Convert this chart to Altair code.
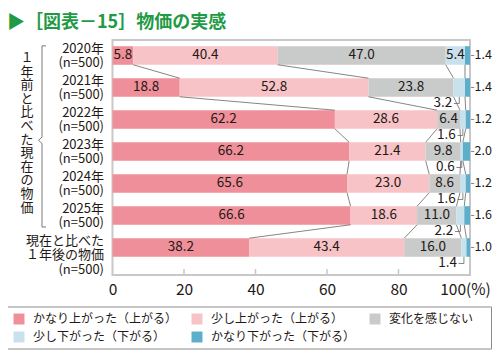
import altair as alt
import pandas as pd

# ---------------- data ----------------
row_labels = [
    "2020年\n(n=500)",
    "2021年\n(n=500)",
    "2022年\n(n=500)",
    "2023年\n(n=500)",
    "2024年\n(n=500)",
    "2025年\n(n=500)",
    "現在と比べた\n１年後の物価\n(n=500)",
]
series_names = [
    "かなり上がった（上がる）",
    "少し上がった（上がる）",
    "変化を感じない",
    "少し下がった（下がる）",
    "かなり下がった（下がる）",
]
s1 = [5.8, 18.8, 62.2, 66.2, 65.6, 66.6, 38.2]
s2 = [40.4, 52.8, 28.6, 21.4, 23.0, 18.6, 43.4]
s3 = [47.0, 23.8, 6.4, 9.8, 8.6, 11.0, 16.0]
s4 = [5.4, 3.2, 1.6, 0.6, 1.6, 2.2, 1.4]
s5 = [1.4, 1.4, 1.2, 2.0, 1.2, 1.6, 1.0]
x_ticks = [0, 20, 40, 60, 80, 100]
group_label = "１年前と比べた現在の物価"
title_text = "▶［図表－15］物価の実感"

colors = ["#ef8f99", "#f7c3c7", "#c9caca", "#c8e1ec", "#5caecb"]
FONT = "Noto Sans CJK JP"
TXT = "#231815"
HALF = 0.29

# ---------------- tables ----------------
series_vals = [s1, s2, s3, s4, s5]
recs = []
cums = []
for i in range(len(row_labels)):
    c = 0.0
    cum_row = []
    for k, name in enumerate(series_names):
        v = series_vals[k][i]
        if k <= 2 or (k == 3 and v >= 5):
            place = "in"
        elif k == 3:
            place = "below"
        else:
            place = "right"
        recs.append(dict(row=i, series=name, value=v, start=c, end=c + v,
                         mid=c + v / 2, label=f"{v:.1f}", place=place,
                         y0=i - HALF, y1=i + HALF, ylab=i + 0.5,
                         lead0=c + v / 2 - 1.5))
        c += v
        cum_row.append(c)
    cums.append(cum_row)
df = pd.DataFrame(recs)

conn = []
for i in range(len(row_labels) - 1):
    for k in range(4):
        conn.append(dict(x=cums[i][k], x2=cums[i + 1][k], y=i + HALF, y2=i + 1 - HALF))
conn_df = pd.DataFrame(conn)

rows_df = pd.DataFrame({"row": list(range(len(row_labels))), "ylabel": row_labels})
ticks_df = pd.DataFrame({"t": x_ticks[1:-1]})

xscale = alt.Scale(domain=[0, 100], nice=False, zero=False)
yscale = alt.Scale(domain=[-0.484, 6.86], reverse=True, nice=False, zero=False)
xaxis = alt.Axis(values=x_ticks, ticks=False, domain=False, grid=False,
                 labelFontSize=15.5, labelFont=FONT, labelColor=TXT,
                 labelPadding=7, title=None, labelFlush=False,
                 labelOffset={"condition": {"test": "datum.value == 100", "value": -5}, "value": 0},
                 labelExpr="datum.value == 100 ? '100(%)' : datum.label")


def X(f):
    return alt.X(f, scale=xscale, axis=xaxis, title=None)


def Y(f):
    return alt.Y(f, scale=yscale, axis=None, title=None)


base = alt.Chart(df)

bars = base.mark_bar().encode(
    x=X("start:Q"), x2="end:Q",
    y=Y("y0:Q"), y2="y1:Q",
    color=alt.Color("series:N",
                    scale=alt.Scale(domain=series_names, range=colors),
                    legend=alt.Legend(orient="none", legendX=-99.5, legendY=273,
                                      direction="horizontal", columns=3, title=None,
                                      symbolType="square", symbolSize=120,
                                      symbolStrokeWidth=0, labelFontSize=12,
                                      labelFont=FONT, labelColor=TXT, labelLimit=0,
                                      columnPadding=13, rowPadding=6, labelOffset=8)),
)

inside = base.transform_filter("datum.place == 'in'").mark_text(
    font=FONT, fontSize=13.5, color=TXT
).encode(x=X("mid:Q"), y=Y("row:Q"), text="label:N")

connectors = alt.Chart(conn_df).mark_rule(color="#666666", strokeWidth=0.8).encode(
    x=X("x:Q"), x2="x2:Q", y=Y("y:Q"), y2="y2:Q",
)

below = base.transform_filter("datum.place == 'below'")
below_text = below.mark_text(font=FONT, fontSize=13.5, color=TXT, align="right", dx=-7).encode(
    x=X("mid:Q"), y=Y("ylab:Q"), text="label:N",
)
below_h = below.mark_rule(color="#666666", strokeWidth=0.8).encode(
    x=X("lead0:Q"), x2="mid:Q", y=Y("ylab:Q"),
)
below_v = below.mark_rule(color="#666666", strokeWidth=0.8).encode(
    x=X("mid:Q"), y=Y("y1:Q"), y2="ylab:Q",
)

right = base.transform_filter("datum.place == 'right'")
right_text = right.mark_text(font=FONT, fontSize=12.5, color=TXT, align="left", dx=4.5).encode(
    x=X("end:Q"), y=Y("row:Q"), text="label:N",
)
right_lead = right.transform_calculate(a="datum.end + 0.3", b="datum.end + 1.2").mark_rule(
    color="#666666", strokeWidth=0.8
).encode(x=X("a:Q"), x2="b:Q", y=Y("row:Q"))

tick_marks = alt.Chart(ticks_df).mark_rule(color="#c8c8c8", strokeWidth=1.5).encode(
    x=X("t:Q"), y=alt.value(229), y2=alt.value(235),
)

ylabels = alt.Chart(rows_df).mark_text(
    font=FONT, fontSize=13, color=TXT, align="right", baseline="top",
    lineBreak="\n", lineHeight=14.5, dy=-12.5,
).encode(x=alt.value(-8.5), y=Y("row:Q"), text="ylabel:N")

one = pd.DataFrame({"g": [group_label]})
vlabel = alt.Chart(one).transform_calculate(
    t="join(split(datum.g, ''), '\\n')"
).mark_text(
    font=FONT, fontSize=13, color=TXT, align="center", baseline="middle",
    lineBreak="\n", lineHeight=13.6,
).encode(x=alt.value(-85.5), y=alt.value(18), text="t:N")

br_df = pd.DataFrame({"a": [-0.3], "b": [2.55], "m": [2.65], "c": [2.75], "d": [5.36]})
brc = dict(color="#555555", strokeWidth=0.8)
br = alt.Chart(br_df)
br1 = br.mark_rule(**brc).encode(x=alt.value(-70.5), y=Y("a:Q"), y2="b:Q")
br2 = br.mark_rule(**brc).encode(x=alt.value(-70.5), y=Y("c:Q"), y2="d:Q")
br3 = br.mark_rule(**brc).encode(x=alt.value(-70.5), x2=alt.value(-74), y=Y("b:Q"), y2="m:Q")
br4 = br.mark_rule(**brc).encode(x=alt.value(-74), x2=alt.value(-70.5), y=Y("m:Q"), y2="c:Q")
br5 = br.mark_rule(**brc).encode(x=alt.value(-70.5), x2=alt.value(-66.5), y=Y("a:Q"))
br6 = br.mark_rule(**brc).encode(x=alt.value(-70.5), x2=alt.value(-66.5), y=Y("d:Q"))

legend_box = alt.Chart(pd.DataFrame({"z": [0]})).mark_rect(
    fill="transparent", stroke="#8c8c8c", strokeWidth=1
).encode(x=alt.value(-105.5), x2=alt.value(379), y=alt.value(267), y2=alt.value(309))

chart = alt.layer(
    bars, connectors, inside, below_h, below_v, below_text, right_lead, right_text,
    tick_marks, ylabels, vlabel, br1, br2, br3, br4, br5, br6, legend_box,
).properties(
    width=357.5, height=235,
    autosize=alt.AutoSizeParams(type="none"),
    padding={"left": 104.5, "top": 32, "right": 22, "bottom": 75},
    title=alt.TitleParams(text=title_text, anchor="start", frame="group", color="#1f9a45",
                          fontSize=18, fontWeight="bold", font=FONT,
                          dx=-105.5, offset=8),
).configure_view(stroke="#c8c8c8", strokeWidth=2)

chart.save("out.html", embed_options={"renderer": "svg", "actions": False})
